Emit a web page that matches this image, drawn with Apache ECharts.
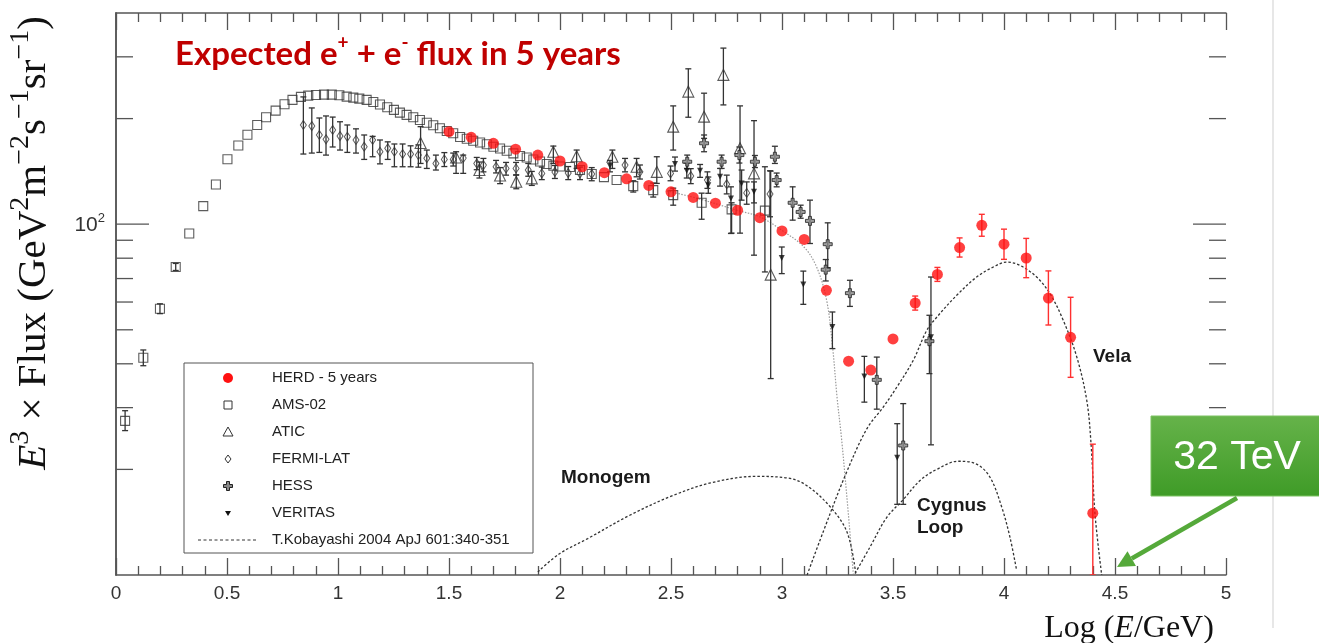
<!DOCTYPE html>
<html><head><meta charset="utf-8">
<script src="https://cdn.jsdelivr.net/npm/echarts/dist/echarts.min.js"></script>
<style>html,body{margin:0;padding:0;background:#fff}#c{width:1319px;height:643px}</style>
</head><body><div id="c"></div>
<script>
// ---------------- data (x = log10(E/GeV), y = E^3 x Flux) ----------------
const herd = [[1.5,183.5],[1.6,176.9],[1.7,170.1],[1.8,163.6],[1.9,157.4],[2.0,151.4],[2.1,145.8],[2.2,140.2],[2.3,134.7],[2.4,129.0],[2.5,123.7],[2.6,119.2],[2.7,114.8],[2.8,109.6],[2.9,104.4],[3.0,95.7],[3.1,90.5],[3.2,64.8],[3.3,40.7],[3.4,38.4],[3.5,47.1],[3.6,59.6],[3.7,71.9],[3.8,85.8],[3.9,99.3],[4.0,87.7],[4.1,80.1],[4.2,61.6],[4.3,47.6],[4.4,15.0]];
const herdErr = [[3.6,56.9,62.4],[3.7,68.7,75.3],[3.8,80.6,91.4],[3.9,92.4,106.7],[4.0,79.4,96.8],[4.1,70.4,91.1],[4.2,51.6,73.6],[4.3,36.6,61.9],[4.4,10.0,23.6]];

const ams = [[0.041,27.5],[0.123,41.6],[0.198,57.4],[0.269,75.5],[0.330,94.1],[0.393,112.6],[0.450,129.8],[0.502,153.1],[0.551,167.6],[0.592,179.9],[0.636,191.8],[0.676,201.8],[0.719,210.7],[0.759,219.8],[0.795,226.1],[0.833,230.6],[0.866,232.6],[0.901,233.6],[0.937,234.1],[0.972,234.1],[1.006,233.2],[1.039,231.1],[1.069,229.5],[1.096,228.0],[1.129,226.1],[1.159,223.1],[1.189,219.3],[1.222,215.5],[1.252,211.8],[1.279,208.0],[1.309,204.9],[1.339,201.8],[1.369,198.2],[1.400,194.7],[1.429,191.4],[1.459,187.7],[1.490,184.4],[1.519,181.6],[1.550,177.3],[1.580,175.3],[1.609,173.0],[1.640,171.0],[1.670,169.0],[1.700,166.3],[1.730,164.4],[1.760,162.0],[1.790,159.2],[1.820,156.4],[1.850,154.9],[1.880,152.9],[1.910,150.9],[1.940,148.4],[1.970,146.9],[2.000,146.0],[2.045,145.5],[2.090,142.7],[2.143,139.0],[2.198,136.2],[2.255,133.6],[2.330,128.4],[2.420,125.1],[2.510,121.0],[2.638,115.1],[2.773,110.2],[2.923,109.3]];
const amsErr = [[0.041,25.8,29.4],[0.123,39.5,43.8],[0.198,55.6,59.3],[0.269,73.8,77.3],[2.330,123.5,133.0],[2.420,119.5,131.0],[2.510,113.3,126.7],[2.638,103.3,122.6],[2.773,94.3,115.1],[2.923,73.1,145.8]];

const atic = [[1.372,170.4],[1.532,154.9],[1.637,142.7],[1.730,137.6],[1.803,132.1],[1.873,135.1],[1.970,160.9],[2.075,156.2],[2.236,155.7],[2.345,145.8],[2.436,141.0],[2.510,189.7],[2.578,238.8],[2.649,202.6],[2.736,266.5],[2.811,164.6],[2.874,139.6],[2.949,71.8]];
const aticErr = [[1.372,149.0,189.7],[1.532,139.6,160.9],[1.637,135.4,150.4],[1.730,130.5,145.0],[1.803,126.2,138.3],[1.873,129.0,141.4],[1.970,149.0,167.0],[2.075,144.2,162.7],[2.236,144.2,162.7],[2.345,136.5,154.0],[2.436,130.7,155.7],[2.510,162.7,217.4],[2.578,201.8,277.3],[2.649,175.7,236.3],[2.736,218.8,317.7],[2.811,94.3,217.4],[2.874,81.6,197.3],[2.949,36.3,141.7]];

const fermi = [[0.844,191.8],[0.882,190.5],[0.916,179.6],[0.946,174.6],[0.976,185.6],[1.009,178.4],[1.042,177.5],[1.081,173.8],[1.118,166.3],[1.156,173.8],[1.189,160.9],[1.224,164.6],[1.254,160.9],[1.291,158.5],[1.327,158.5],[1.362,157.4],[1.400,154.2],[1.441,149.0],[1.479,153.0],[1.519,153.0],[1.564,154.3],[1.625,149.0],[1.655,147.4],[1.712,145.8],[1.757,144.2],[1.802,144.2],[1.857,142.7],[1.918,139.6],[1.977,140.9],[2.037,139.9],[2.090,139.6],[2.143,139.0],[2.293,147.4],[2.360,141.0],[2.498,139.6],[2.589,137.2],[2.664,133.6],[2.751,130.0],[2.841,122.8],[2.946,121.9]];
const fermiErr = [[0.844,158.5,230.6],[0.882,159.5,214.5],[0.916,160.2,200.8],[0.946,157.4,203.5],[0.976,166.0,202.0],[1.009,162.7,195.9],[1.042,160.2,191.8],[1.081,159.5,187.0],[1.118,153.0,179.6],[1.156,155.7,178.0],[1.189,148.6,173.8],[1.224,153.0,171.7],[1.254,145.8,169.3],[1.291,145.8,169.3],[1.327,145.8,167.3],[1.362,145.4,168.3],[1.400,144.2,162.7],[1.441,142.7,157.4],[1.479,146.0,160.0],[1.519,146.5,159.5],[1.564,139.6,157.4],[1.625,143.0,155.0],[1.655,141.0,154.0],[1.712,140.0,152.0],[1.757,138.0,150.0],[1.802,138.0,150.0],[1.857,137.0,149.0],[1.918,134.0,145.5],[1.977,135.0,147.0],[2.037,134.0,146.0],[2.090,134.0,145.5],[2.143,133.0,145.0],[2.293,141.0,154.0],[2.360,134.5,147.5],[2.498,133.0,146.5],[2.589,130.5,144.0],[2.664,126.5,141.0],[2.751,122.0,138.0],[2.841,114.0,132.0],[2.946,105.0,142.0]];

const hess = [[2.573,150.7],[2.649,170.1],[2.728,150.7],[2.808,157.4],[2.878,150.7],[2.968,155.7],[2.976,133.6],[3.048,115.1],[3.084,108.4],[3.126,102.2],[3.197,74.2],[3.206,87.7],[3.306,63.6],[3.427,36.0],[3.546,23.4],[3.664,46.4]];
const hessErr = [[2.573,144.0,157.4],[2.649,160.9,179.6],[2.728,144.2,157.4],[2.808,149.4,166.0],[2.878,145.0,157.0],[2.968,149.0,166.8],[2.976,127.8,139.9],[3.048,102.7,127.8],[3.084,104.0,113.3],[3.126,88.1,117.1],[3.197,68.9,79.3],[3.206,75.2,100.9],[3.306,58.3,69.2],[3.427,29.7,41.8],[3.546,15.9,30.8],[3.664,37.5,55.0]];

const veritas = [[2.225,146.5],[2.518,148.4],[2.571,142.0],[2.631,142.0],[2.668,129.2],[2.721,136.5],[2.770,118.4],[2.818,130.7],[2.874,123.7],[2.999,80.1],[3.096,67.3],[3.227,50.9],[3.371,36.8],[3.519,21.6],[3.671,47.6]];
const veritasErr = [[2.225,141.0,152.0],[2.518,141.7,155.4],[2.571,135.4,149.4],[2.631,136.0,148.0],[2.668,122.5,136.3],[2.721,128.4,144.2],[2.770,94.1,127.8],[2.818,117.1,142.7],[2.874,115.0,132.0],[2.999,72.3,86.1],[3.096,59.1,73.5],[3.227,44.2,56.2],[3.371,31.1,42.0],[3.519,15.9,27.0],[3.671,23.5,70.7]];

// T.Kobayashi 2004 model curves
const bgCurve = [[2.481,124.5],[2.631,117.9],[2.797,109.6],[2.901,104.9],[2.999,96.1],[3.099,86.1],[3.156,75.5],[3.201,60.7],[3.228,44.6],[3.248,32.1],[3.269,24.2],[3.299,14.9],[3.321,10.1]];
const monogem = [[1.900,10.2],[1.998,11.5],[2.125,12.7],[2.314,14.8],[2.504,16.8],[2.678,18.3],[2.883,19.1],[3.025,18.9],[3.105,18.1],[3.215,15.7],[3.294,13.2],[3.333,10.0]];
const cygnus = [[3.329,10.1],[3.396,12.0],[3.472,14.6],[3.546,16.4],[3.622,18.6],[3.697,20.0],[3.794,21.1],[3.877,20.7],[3.937,19.0],[3.990,15.6],[4.027,12.8],[4.057,10.3]];
const vela = [[3.113,10.0],[3.184,13.2],[3.286,19.3],[3.382,26.1],[3.456,30.1],[3.517,34.3],[3.591,40.9],[3.652,49.8],[3.697,54.3],[3.787,62.7],[3.877,70.7],[3.952,75.5],[4.012,78.0],[4.072,76.3],[4.147,70.7],[4.207,63.4],[4.267,53.2],[4.328,41.8],[4.373,31.4],[4.392,23.7],[4.410,14.9],[4.440,10.0]];

const yMajorTicks = [100];
const yMinorTicks = [20,30,40,50,60,70,80,90,200,300];
const yMajorLabelValue = 100;
const legendLabels = ['HERD - 5 years','AMS-02','ATIC','FERMI-LAT','HESS','VERITAS','T.Kobayashi 2004 ApJ 601:340-351'];
const curveLabels = [['Monogem',561,478],['Cygnus',917,506],['Loop',917,528],['Vela',1093,357]];

// ---------------- chart ----------------
const chart = echarts.init(document.getElementById('c'), null, {renderer:'canvas'});
const INK = '#333';
const AX = '#555';
const hessPath = 'path://M-1,-3L1,-3L1,-1L3,-1L3,1L1,1L1,3L-1,3L-1,1L-3,1L-3,-1L-1,-1Z';

function errSeries(data, color, width, cap, z){
  return {type:'custom', data, z, silent:true, clip:true, encode:{x:0, y:[1,2]},
    renderItem(params, api){
      const x = api.value(0), lo = api.value(1), hi = api.value(2);
      const a = api.coord([x, lo]), b = api.coord([x, hi]);
      const c = cap/2, st = {stroke:color, lineWidth:width};
      return {type:'group', children:[
        {type:'line', shape:{x1:a[0],y1:a[1],x2:b[0],y2:b[1]}, style:st},
        {type:'line', shape:{x1:a[0]-c,y1:a[1],x2:a[0]+c,y2:a[1]}, style:st},
        {type:'line', shape:{x1:b[0]-c,y1:b[1],x2:b[0]+c,y2:b[1]}, style:st}
      ]};
    }};
}
function curve(data, color, dash, width){
  return {type:'line', data, showSymbol:false, smooth:0.35, z:1, silent:true,
    lineStyle:{color, width, type:dash}};
}
function tickSeries(values, len){
  return {type:'custom', z:6, silent:true, clip:false, data:values.map(v=>[0,v]), encode:{x:0,y:1},
    renderItem(params, api){
      const v = api.value(1), a = api.coord([0,v]), b = api.coord([5,v]);
      const st = {stroke:AX, lineWidth:1.3};
      return {type:'group', children:[
        {type:'line', shape:{x1:a[0], y1:a[1], x2:a[0]+len, y2:a[1]}, style:st},
        {type:'line', shape:{x1:b[0]-len, y1:b[1], x2:b[0], y2:b[1]}, style:st}
      ]};
    }};
}

const xAxisBase = {type:'value', min:0, max:5, interval:0.5,
  axisLine:{lineStyle:{color:AX, width:1.5}},
  axisTick:{inside:true, length:17, lineStyle:{color:AX, width:1.3}},
  minorTick:{show:true, splitNumber:5, length:9, lineStyle:{color:AX, width:1.3}},
  splitLine:{show:false}, minorSplitLine:{show:false}};
const yAxisBase = {type:'log', logBase:10, min:10, max:400,
  axisLine:{show:true, lineStyle:{color:AX, width:1.5}},
  axisTick:{show:false},
  splitLine:{show:false}};

// legend graphics
const LX = 228, LT = 378, LS = 27;
const legendG = [
  {type:'rect', shape:{x:184, y:363, width:349, height:190}, style:{fill:'#fff', stroke:'#555', lineWidth:1}},
  {type:'circle', shape:{cx:LX, cy:LT, r:5}, style:{fill:'#ff1010'}},
  {type:'rect', shape:{x:LX-4, y:LT+LS-4, width:8, height:8}, style:{fill:'none', stroke:INK, lineWidth:1}},
  {type:'polygon', shape:{points:[[LX,LT+2*LS-5],[LX+5,LT+2*LS+4],[LX-5,LT+2*LS+4]]}, style:{fill:'none', stroke:INK, lineWidth:1}},
  {type:'polygon', shape:{points:[[LX,LT+3*LS-4],[LX+3,LT+3*LS],[LX,LT+3*LS+4],[LX-3,LT+3*LS]]}, style:{fill:'none', stroke:INK, lineWidth:1}},
  {type:'polygon', shape:{points:[[LX-1.5,LT+4*LS-4.5],[LX+1.5,LT+4*LS-4.5],[LX+1.5,LT+4*LS-1.5],[LX+4.5,LT+4*LS-1.5],[LX+4.5,LT+4*LS+1.5],[LX+1.5,LT+4*LS+1.5],[LX+1.5,LT+4*LS+4.5],[LX-1.5,LT+4*LS+4.5],[LX-1.5,LT+4*LS+1.5],[LX-4.5,LT+4*LS+1.5],[LX-4.5,LT+4*LS-1.5],[LX-1.5,LT+4*LS-1.5]]}, style:{fill:'#888', stroke:'#222', lineWidth:1}},
  {type:'polygon', shape:{points:[[LX-3,LT+5*LS-2],[LX+3,LT+5*LS-2],[LX,LT+5*LS+3]]}, style:{fill:'#111'}},
  {type:'line', shape:{x1:198, y1:LT+6*LS, x2:256, y2:LT+6*LS}, style:{stroke:INK, lineWidth:1, lineDash:[3,2.5]}}
];
legendLabels.forEach((t,i)=>legendG.push({type:'text', x:272, y:LT+i*LS,
  style:{text:t, fill:'#222', font:'15px "Liberation Sans", Arial, sans-serif', align:'left', verticalAlign:'middle', textAlign:'left', textVerticalAlign:'middle'}}));

const labelG = curveLabels.map(([t,x,y])=>({type:'text', x, y,
  style:{text:t, fill:'#1a1a1a', font:'bold 19px "Liberation Sans", Arial, sans-serif', align:'left', verticalAlign:'middle', textAlign:'left', textVerticalAlign:'middle'}}));

// arrow geometry (annotation)
const aS = [1237,498], aT = [1117,567];
const dx = aT[0]-aS[0], dy = aT[1]-aS[1], L = Math.hypot(dx,dy), ux = dx/L, uy = dy/L;
const hl = 17, hw = 8.5, bx = aT[0]-ux*hl, by = aT[1]-uy*hl;

const SERIF = '"Liberation Serif","DejaVu Serif",serif';
const serifRich = {
  i:{fontFamily:SERIF, fontStyle:'italic', fontSize:41, fill:'#111', verticalAlign:'bottom', lineHeight:48},
  n:{fontFamily:SERIF, fontSize:41, fill:'#111', verticalAlign:'bottom', lineHeight:48},
  s:{fontFamily:SERIF, fontSize:28, fill:'#111', verticalAlign:'top', lineHeight:48}
};

const option = {
  animation:false,
  backgroundColor:'#fff',
  grid:{left:116, right:93, top:13, bottom:68, containLabel:false, outerBoundsMode:'none'},
  xAxis:[
    Object.assign({}, xAxisBase, {position:'bottom',
      axisLabel:{color:INK, fontSize:19, fontFamily:'"Liberation Sans", Arial, sans-serif', margin:9}}),
    Object.assign({}, xAxisBase, {position:'top', axisLabel:{show:false}})
  ],
  yAxis:[
    Object.assign({}, yAxisBase, {position:'left',
      axisLabel:{margin:11, formatter:v => Math.round(v)===yMajorLabelValue ? '{a|10}{b|2}' : '',
        rich:{a:{fontSize:21, color:INK, fontFamily:'"Liberation Sans", Arial, sans-serif', verticalAlign:'bottom', lineHeight:24},
              b:{fontSize:13, color:INK, fontFamily:'"Liberation Sans", Arial, sans-serif', verticalAlign:'top', lineHeight:24}}}}),
    Object.assign({}, yAxisBase, {position:'right', axisLabel:{show:false}})
  ],
  series:[
    curve(bgCurve, '#9a9a9a', [1.5,1.5], 1.2),
    curve(monogem, INK, [2.5,2], 1.3),
    curve(cygnus, INK, [2.5,2], 1.3),
    curve(vela, INK, [2.5,2], 1.3),
    errSeries(amsErr, INK, 1.3, 6, 2),
    errSeries(fermiErr, INK, 1.3, 6, 2),
    errSeries(aticErr, INK, 1.3, 6, 2),
    errSeries(hessErr, INK, 1.3, 6, 2),
    errSeries(veritasErr, INK, 1.3, 6, 2),
    {type:'scatter', name:'AMS-02', data:ams, symbol:'rect', symbolSize:9, z:3, silent:true,
      itemStyle:{color:'rgba(255,255,255,0)', borderColor:INK, borderWidth:1.1}},
    {type:'scatter', name:'FERMI-LAT', data:fermi, symbol:'diamond', symbolSize:[6,9], z:3, silent:true,
      itemStyle:{color:'rgba(255,255,255,0)', borderColor:INK, borderWidth:1}},
    {type:'scatter', name:'ATIC', data:atic, symbol:'triangle', symbolSize:11, z:3, silent:true,
      itemStyle:{color:'rgba(255,255,255,0)', borderColor:INK, borderWidth:1.1}},
    {type:'scatter', name:'HESS', data:hess, symbol:hessPath, symbolSize:9, z:3, silent:true,
      itemStyle:{color:'#888', borderColor:'#222', borderWidth:1}},
    {type:'scatter', name:'VERITAS', data:veritas, symbol:'triangle', symbolRotate:180, symbolSize:6, z:4, silent:true,
      itemStyle:{color:'#111'}},
    errSeries(herdErr, '#ff3030', 1.4, 6, 4),
    {type:'scatter', name:'HERD - 5 years', data:herd, symbol:'circle', symbolSize:11, z:5, silent:true,
      itemStyle:{color:'#ff1010'}},
    tickSeries(yMajorTicks, 33),
    tickSeries(yMinorTicks, 17)
  ],
  graphic:[
    {type:'line', shape:{x1:1273, y1:0, x2:1273, y2:628}, style:{stroke:'#cfcfcf', lineWidth:1}, z:0},
    {type:'text', x:175, y:52, z:10,
      style:{text:'{m|Expected e}{s|+}{m| + e}{s|-}{m| flux in 5 years}',
        rich:{m:{fontFamily:'Lato, "Open Sans", sans-serif', fontWeight:'bold', fontSize:33, fill:'#C00000', verticalAlign:'bottom', lineHeight:38},
              s:{fontFamily:'Lato, "Open Sans", sans-serif', fontWeight:'bold', fontSize:19, fill:'#C00000', verticalAlign:'top', lineHeight:38}},
        align:'left', verticalAlign:'middle', textAlign:'left', textVerticalAlign:'middle'}},
    {type:'text', x:31, y:243, rotation:Math.PI/2, z:10,
      style:{text:'{i|E}{s|3}{n| × Flux (GeV}{s|2}{n|m}{s|−2}{n|s}{s|−1}{n|sr}{s|−1}{n|)}', rich:serifRich,
        align:'center', verticalAlign:'middle', textAlign:'center', textVerticalAlign:'middle'}},
    {type:'text', x:1129, y:627, z:10,
      style:{text:'{n|Log (}{i|E}{n|/GeV)}',
        rich:{i:Object.assign({}, serifRich.i, {fontSize:32, lineHeight:36}), n:Object.assign({}, serifRich.n, {fontSize:32, lineHeight:36})},
        align:'center', verticalAlign:'middle', textAlign:'center', textVerticalAlign:'middle'}},
    {type:'group', z:10, children: legendG},
    {type:'group', z:10, children: labelG},
    {type:'rect', z:11, shape:{x:1151, y:416, width:175, height:80},
      style:{fill:new echarts.graphic.LinearGradient(0,0,0,1,[{offset:0,color:'#66b34a'},{offset:1,color:'#3f9b27'}]), stroke:'#7cc263', lineWidth:1}},
    {type:'text', z:12, x:1237, y:458,
      style:{text:'32 TeV', fill:'#fff', font:'41px "Liberation Sans", Arial, sans-serif', align:'center', verticalAlign:'middle', textAlign:'center', textVerticalAlign:'middle'}},
    {type:'line', z:11, shape:{x1:aS[0], y1:aS[1], x2:bx, y2:by}, style:{stroke:'#55a93a', lineWidth:4.5}},
    {type:'polygon', z:11, shape:{points:[[aT[0],aT[1]],[bx-uy*hw, by+ux*hw],[bx+uy*hw, by-ux*hw]]}, style:{fill:'#55a93a'}}
  ]
};
chart.setOption(option);
</script>
</body></html>
